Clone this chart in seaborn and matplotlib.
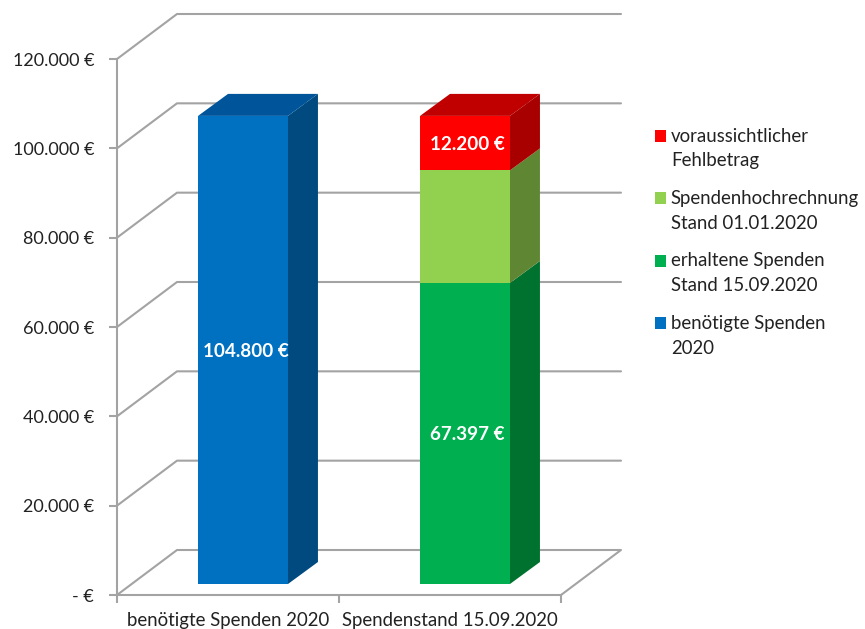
import matplotlib
matplotlib.use("Agg")
import matplotlib.pyplot as plt
import seaborn as sns
import numpy as np
from matplotlib.patches import Patch, Polygon
from matplotlib.lines import Line2D
from matplotlib.transforms import Affine2D, IdentityTransform
from matplotlib.ticker import FuncFormatter

categories = ['benötigte Spenden 2020', 'Spendenstand 15.09.2020']
benoetigt = [104800, 0]
erhalten = [0, 67397]
hochrechnung = [0, 25203]
fehlbetrag = [0, 12200]
y_ticks = [0, 20000, 40000, 60000, 80000, 100000, 120000]

series_names = ['benötigte Spenden\n2020', 'erhaltene Spenden\nStand 15.09.2020',
                'Spendenhochrechnung\nStand 01.01.2020', 'voraussichtlicher\nFehlbetrag']
series_values = [benoetigt, erhalten, hochrechnung, fehlbetrag]
series_labelled = [True, True, False, True]
front_colors = ['#0070C0', '#00B050', '#92D050', '#FF0000']
side_colors = ['#004A7F', '#00722F', '#5F8733', '#A80000']
top_colors = ['#00559A', '#008A3E', '#74A63F', '#C00000']

grid_color = '#A3A3A3'
text_color = '#222222'


def euro(v, pos=None):
    if v == 0:
        return '- €'
    return f'{v:,.0f} €'.replace(',', '.')


sns.set_style("white")
plt.rcParams['font.family'] = ['Lato', 'DejaVu Sans']

W, H = 865, 629
fig = plt.figure(figsize=(W / 100, H / 100), dpi=100)
ax = fig.add_axes([117 / W, (H - 595) / H, 444 / W, 536 / H])

bottoms = np.zeros(len(categories))
for i, values in enumerate(series_values):
    sns.barplot(x=categories, y=values, bottom=bottoms, color=front_colors[i],
                saturation=1, width=0.405, ax=ax, zorder=4)
    bottoms = bottoms + np.array(values)

ax.set_xlim(-0.5, 1.5)
ax.set_ylim(0, 120000)

# front of the bars sits a little into the floor, the floor goes back further
front = ax.transData + Affine2D().translate(15, 11)
back = ax.transData + Affine2D().translate(45, 33)
label_pos = front + Affine2D().translate(2.5, -1.5)

totals = np.sum(series_values, axis=0)
for i, values in enumerate(series_values):
    bars = ax.patches[i * len(categories):(i + 1) * len(categories)]
    for k, bar in enumerate(bars):
        bar.set_transform(front)
        bar.set_clip_on(False)
        bar.set_linewidth(0)
        if values[k] == 0:
            continue
        x0 = bar.get_x()
        x1 = x0 + bar.get_width()
        y0, y1 = bar.get_y(), bar.get_y() + bar.get_height()
        p = [front.transform((x1, y0)), back.transform((x1, y0)),
             back.transform((x1, y1)), front.transform((x1, y1))]
        ax.add_patch(Polygon(p, closed=True, transform=IdentityTransform(), facecolor=side_colors[i],
                             linewidth=0, zorder=3, clip_on=False))
        if y1 >= totals[k]:
            p = [front.transform((x0, y1)), back.transform((x0, y1)),
                 back.transform((x1, y1)), front.transform((x1, y1))]
            ax.add_patch(Polygon(p, closed=True, transform=IdentityTransform(), facecolor=top_colors[i],
                                 linewidth=0, zorder=3, clip_on=False))
        if series_labelled[i]:
            ax.text((x0 + x1) / 2, (y0 + y1) / 2, euro(values[k]), transform=label_pos,
                    color='white', fontweight='bold', fontsize=13.6, ha='center', va='center', zorder=6)

ax.set_yticks(y_ticks)
ax.yaxis.set_major_formatter(FuncFormatter(euro))
ax.set_xticks([-0.5, 0.5, 1.5], minor=False)
ax.set_xticklabels(['', '', ''])
ax.set_xticks([0, 1], minor=True)
ax.set_xticklabels(categories, minor=True)
ax.tick_params(axis='x', which='major', length=6, width=1.5, color=grid_color, bottom=True)
ax.tick_params(axis='x', which='minor', length=0, pad=12.5, labelsize=13.4, labelcolor=text_color, bottom=False)
ax.tick_params(axis='y', length=6, width=1.5, color=grid_color, left=True, pad=10.5,
               labelsize=13, labelcolor=text_color)
ax.set_xlabel('')
ax.set_ylabel('')
sns.despine(ax=ax, top=True, right=True)
for s in ['left', 'bottom']:
    ax.spines[s].set_color(grid_color)
    ax.spines[s].set_linewidth(1.5)

# walls: each gridline runs from the y axis to the back wall, then along it
for v in y_ticks:
    a = ax.transData.transform((-0.5, v))
    b = ax.transData.transform((1.5, v))
    pts = [a, a + (60, 45), b + (60, 45)]
    if v == 0:
        pts.append(b)
    xs, ys = zip(*pts)
    ax.add_line(Line2D(xs, ys, transform=IdentityTransform(), color=grid_color, lw=1.5,
                       clip_on=False, zorder=1))

handles = [Patch(facecolor=c, linewidth=0) for c in front_colors[::-1]]
leg = ax.legend(handles, series_names[::-1], loc='upper left', bbox_to_anchor=(655 / W, (H - 127.5) / H),
                bbox_transform=fig.transFigure, frameon=False, fontsize=13.4, labelcolor=text_color,
                handlelength=0.6, handleheight=0.6, handletextpad=0.25, labelspacing=1.1,
                borderpad=0, borderaxespad=0)
for t in leg.get_texts():
    t.set_linespacing(1.57)
# square sits beside the first line of each entry
for h in leg.legend_handles:
    h.set_y(h.get_y() + 9.5)

fig.savefig('out.png', dpi=100)
